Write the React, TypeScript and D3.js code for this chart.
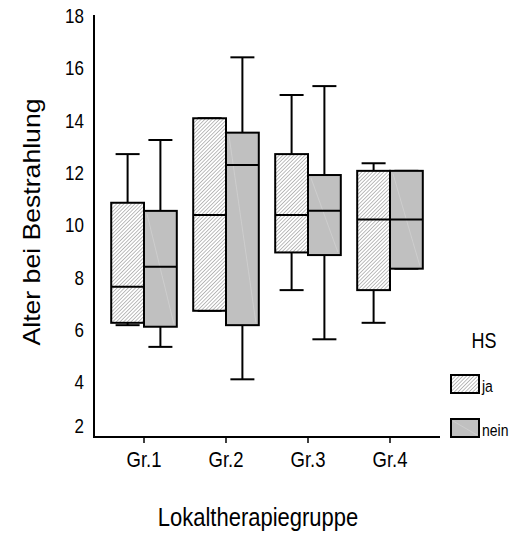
import React from "react";
import * as d3 from "d3";

// --- data ---
const groups = ["Gr.1", "Gr.2", "Gr.3", "Gr.4"];
const series = ["ja", "nein"];
const yTicks = [2, 4, 6, 8, 10, 12, 14, 16, 18];

// [lower whisker, Q1, median, Q3, upper whisker]
const jaStats = [
  [6.18, 6.27, 7.65, 10.86, 12.72],
  [6.73, 6.73, 10.39, 14.09, 14.09],
  [7.52, 8.96, 10.39, 12.72, 14.98],
  [6.27, 7.52, 10.22, 12.08, 12.37],
];
const neinStats = [
  [5.35, 6.12, 8.41, 10.55, 13.26],
  [4.11, 6.18, 12.3, 13.54, 16.42],
  [5.64, 8.86, 10.55, 11.92, 15.32],
  [8.34, 8.34, 10.22, 12.08, 12.08],
];

const W = 515;
const H = 533;
const FONT = "Arial, 'Liberation Sans', sans-serif";
const STRETCH = 1.18; // the reference text is a bit taller than it is wide

// text drawn with a vertical stretch, anchored at its baseline
function T({ x, y, size, anchor = "start", children }: any) {
  return (
    <text
      transform={`translate(${x},${y}) scale(1,${STRETCH})`}
      textAnchor={anchor}
      fontFamily={FONT}
      fontSize={size}
      fill="#000"
    >
      {children}
    </text>
  );
}

export default function App() {
  const x = d3.scaleBand().domain(groups).range([103, 431]).paddingInner(0.2).paddingOuter(0.1);
  const xs = d3.scaleBand().domain(series).range([0, x.bandwidth()]);
  const y = d3.scaleLinear().domain([2, 18]).range([434.5, 16]);

  const axisX = 94;
  const axisY = 437;
  const capHalf = 12;

  const boxes: any[] = [];
  groups.forEach((g, i) => {
    [jaStats[i], neinStats[i]].forEach((s, j) => {
      boxes.push({ g, key: series[j], s });
    });
  });

  return (
    <svg width={W} height={H} style={{ position: "absolute", left: 0, top: 0, background: "#fff" }}>
      <defs>
        <pattern id="hatch" width="2.6" height="2.6" patternUnits="userSpaceOnUse" patternTransform="rotate(45)">
          <rect width="2.6" height="2.6" fill="#fff" />
          <line x1="0" y1="0" x2="0" y2="2.6" stroke="#7a7a7a" strokeWidth="1" />
        </pattern>
      </defs>

      {/* boxes */}
      {boxes.map((b, k) => {
        const x0 = (x(b.g) as number) + (xs(b.key) as number);
        const bw = xs.bandwidth();
        const cx = x0 + bw / 2;
        const [lo, q1, med, q3, hi] = b.s;
        const fill = b.key === "ja" ? "url(#hatch)" : "#c0c0c0";
        return (
          <g key={k}>
            <line x1={cx} x2={cx} y1={y(hi)} y2={y(q3)} stroke="#000" strokeWidth={2} />
            <line x1={cx} x2={cx} y1={y(q1)} y2={y(lo)} stroke="#000" strokeWidth={2} />
            <line x1={cx - capHalf} x2={cx + capHalf} y1={y(hi)} y2={y(hi)} stroke="#000" strokeWidth={2} />
            <line x1={cx - capHalf} x2={cx + capHalf} y1={y(lo)} y2={y(lo)} stroke="#000" strokeWidth={2} />
            <rect x={x0} y={y(q3)} width={bw} height={y(q1) - y(q3)} fill={fill} stroke="#000" strokeWidth={2} />
            {b.key === "nein" && (
              <line x1={x0 + 3} y1={y(q3) + 3} x2={x0 + bw - 3} y2={y(q1) - 3} stroke="#d2d2d2" strokeWidth={0.7} />
            )}
            <line x1={x0} x2={x0 + bw} y1={y(med)} y2={y(med)} stroke="#000" strokeWidth={2} />
          </g>
        );
      })}

      {/* axes */}
      <line x1={axisX} x2={axisX} y1={15} y2={axisY + 1} stroke="#000" strokeWidth={2} />
      <line x1={axisX - 1} x2={440} y1={axisY} y2={axisY} stroke="#000" strokeWidth={2} />
      {groups.map((g) => {
        const cx = (x(g) as number) + x.bandwidth() / 2;
        return (
          <g key={g}>
            <line x1={cx} x2={cx} y1={axisY} y2={axisY + 6} stroke="#000" strokeWidth={1.5} />
            <T x={cx} y={467} size={18.5} anchor="middle">{g}</T>
          </g>
        );
      })}
      {yTicks.map((t) => (
        <T key={t} x={84} y={Math.min(y(t), 426) + 7} size={17} anchor="end">{t}</T>
      ))}

      {/* titles */}
      <text
        transform={`translate(40,222) rotate(-90) scale(1,${STRETCH})`}
        textAnchor="middle"
        fontFamily={FONT}
        fontSize={21}
        fill="#000"
        textLength={247}
        lengthAdjust="spacingAndGlyphs"
      >
        Alter bei Bestrahlung
      </text>
      <T x={258} y={526} size={22} anchor="middle">Lokaltherapiegruppe</T>

      {/* legend */}
      <T x={484} y={348} size={18} anchor="middle">HS</T>
      {series.map((s, i) => {
        const ly = 375 + i * 44;
        return (
          <g key={s}>
            <rect x={451} y={ly} width={28} height={18} fill={s === "ja" ? "url(#hatch)" : "#c0c0c0"} stroke="#000" strokeWidth={2} />
            {s === "nein" && <line x1={453} y1={ly + 2} x2={477} y2={ly + 16} stroke="#d2d2d2" strokeWidth={0.7} />}
            <T x={482} y={ly + 17} size={14}>{s}</T>
          </g>
        );
      })}
    </svg>
  );
}
